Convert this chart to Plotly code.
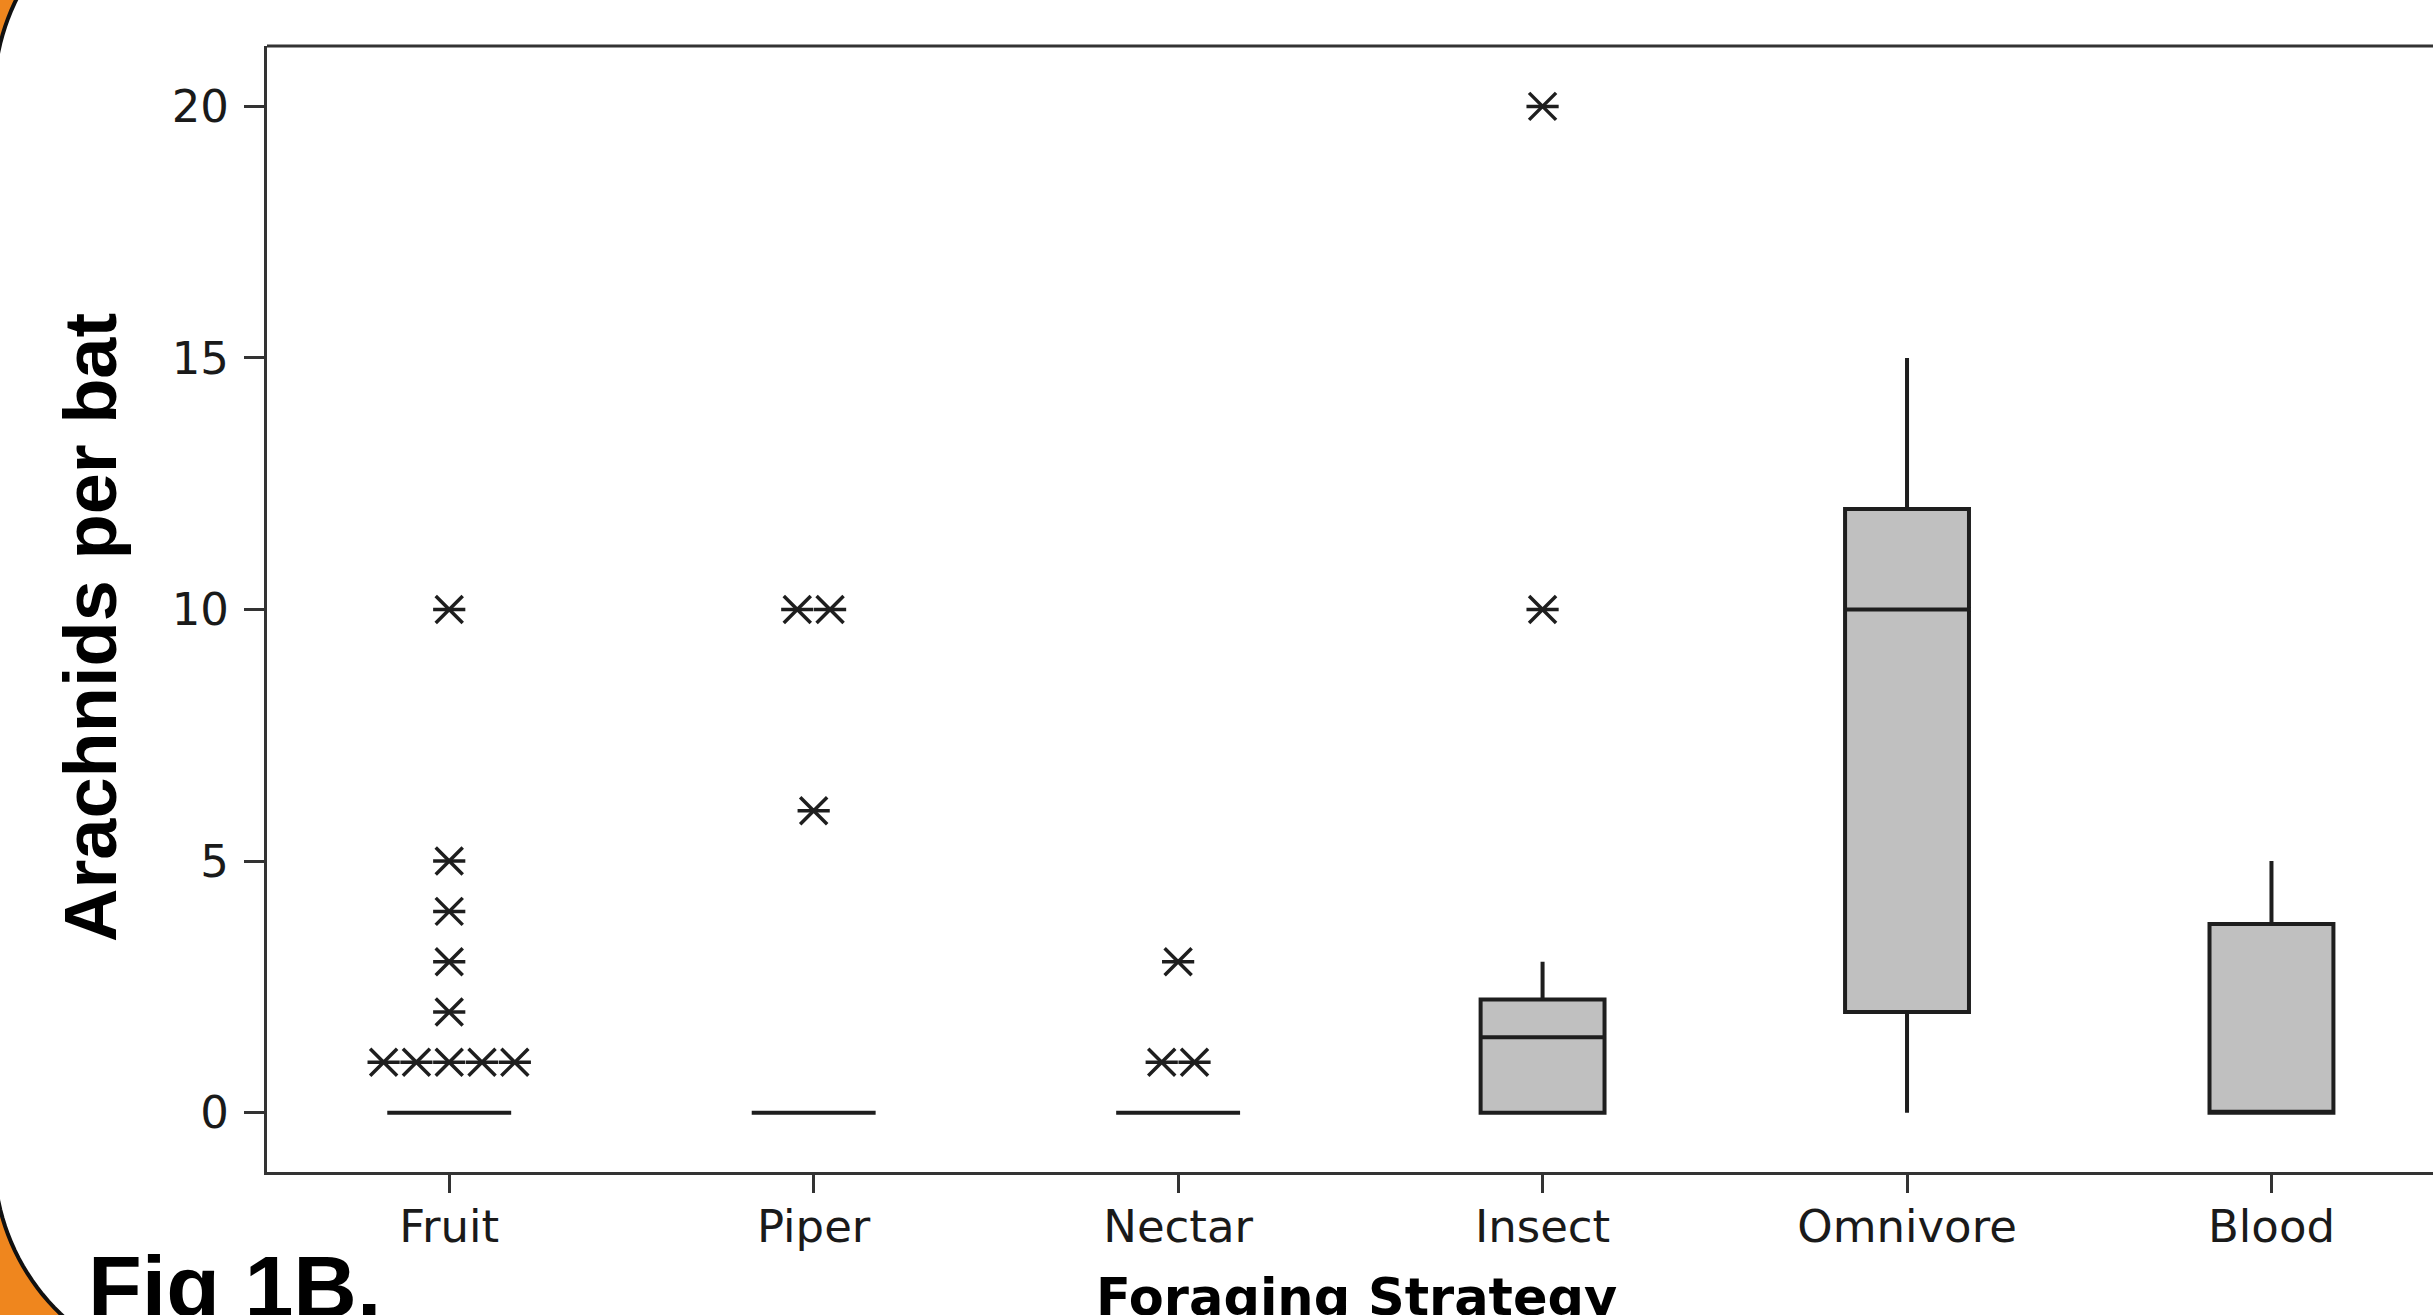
import numpy as np
import plotly.graph_objects as go

# ---------------- data ----------------
categories = ["Fruit", "Piper", "Nectar", "Insect", "Omnivore", "Blood"]
q1_vals = [0, 0, 0, 0, 2, 0]
median_vals = [0, 0, 0, 1.5, 10, 0]
q3_vals = [0, 0, 0, 2.25, 12, 3.75]
lower_whisker = [0, 0, 0, 0, 0, 0]
upper_whisker = [0, 0, 0, 3, 15, 5]

fruit_outliers = [10, 5, 4, 3, 2, 1, 1, 1, 1, 1]
piper_outliers = [10, 10, 6]
nectar_outliers = [3, 1, 1]
insect_outliers = [20, 10]
omnivore_outliers = []
blood_outliers = []
outliers = [fruit_outliers, piper_outliers, nectar_outliers,
            insect_outliers, omnivore_outliers, blood_outliers]

y_ticks = [0, 5, 10, 15, 20]

# ---------------- layout geometry ----------------
W, H = 2433, 1315
ML, MR, MT, MB = 267, 0, 46, 143
PW, PH = W - ML - MR, H - MT - MB


def pxx(px):
    return (px - ML) / PW


def pxy(py):
    return (H - MB - py) / PH


INK = "#1e1e1e"
tie_step = 0.09

fig = go.Figure()

fig.add_trace(go.Box(
    x=list(range(len(categories))),
    q1=q1_vals, median=median_vals, q3=q3_vals,
    lowerfence=lower_whisker, upperfence=upper_whisker,
    width=0.34, whiskerwidth=0, boxpoints=False,
    fillcolor="#c0c0c0", line=dict(color=INK, width=4),
    showlegend=False, hoverinfo="skip",
))

# outliers: ties placed side by side
ox, oy = [], []
for i, vals in enumerate(outliers):
    uniq = []
    for v in vals:
        if v not in uniq:
            uniq.append(v)
    for v in uniq:
        k = vals.count(v)
        for j in range(k):
            ox.append(i + (j - (k - 1) / 2) * tie_step)
            oy.append(v)

for sym, size in [("line-ew-open", 23), ("x-thin-open", 27)]:
    fig.add_trace(go.Scatter(
        x=ox, y=oy, mode="markers",
        marker=dict(symbol=sym, size=size, color=INK,
                    line=dict(color=INK, width=3.5)),
        showlegend=False, hoverinfo="skip", cliponaxis=False,
    ))

fig.update_xaxes(
    range=[-0.5, (W - 448.4) / 364.6],
    tickmode="array", tickvals=list(range(len(categories))), ticktext=categories,
    showline=True, linecolor="#333333", linewidth=3,
    ticks="outside", ticklen=18, tickwidth=3, tickcolor="#333333",
    showgrid=False, zeroline=False, ticklabelstandoff=-5,
    tickfont=dict(family="DejaVu Sans", size=45, color="#1a1a1a"),
)
fig.update_yaxes(
    range=[-1.18, 21.2],
    tickmode="array", tickvals=y_ticks, ticktext=[str(t) for t in y_ticks],
    showline=True, linecolor="#333333", linewidth=3,
    ticks="outside", ticklen=20, tickwidth=3, tickcolor="#333333",
    showgrid=False, zeroline=False, ticklabelstandoff=6,
    tickfont=dict(family="DejaVu Sans", size=45, color="#1a1a1a"),
)

shapes = []
# top frame line
shapes.append(dict(type="line", xref="paper", yref="paper", x0=0, x1=1.01, y0=1, y1=1,
                   line=dict(color="#333333", width=3)))

# orange corner decoration (rounded white panel on orange background)
R = 216
t = np.linspace(0, np.pi / 2, 40)
cx = 210
cy_bot, cy_top = 1158, 95
bot_pts = [(cx - R * np.cos(a), cy_bot + R * np.sin(a)) for a in t]
top_pts = [(cx - R * np.cos(a), cy_top - R * np.sin(a)) for a in t]


def path_from(pts, close_pts=None):
    allp = list(pts) + (close_pts or [])
    s = "M " + " L ".join(f"{pxx(x):.5f},{pxy(y):.5f}" for x, y in allp)
    if close_pts:
        s += " Z"
    return s


ORANGE = "#EF861E"
shapes.append(dict(type="path", xref="paper", yref="paper", layer="below",
                   path=path_from(bot_pts, [(cx, 1400), (-60, 1400), (-60, cy_bot)]),
                   fillcolor=ORANGE, line=dict(width=0)))
shapes.append(dict(type="path", xref="paper", yref="paper", layer="below",
                   path=path_from(top_pts, [(cx, -200), (-60, -200), (-60, cy_top)]),
                   fillcolor=ORANGE, line=dict(width=0)))
shapes.append(dict(type="path", xref="paper", yref="paper", layer="below",
                   path=path_from(bot_pts), line=dict(color="#111111", width=4)))
shapes.append(dict(type="path", xref="paper", yref="paper", layer="below",
                   path=path_from(top_pts), line=dict(color="#111111", width=4)))

annotations = [
    dict(text="<b>Arachnids per bat</b>", xref="paper", yref="paper",
         x=pxx(90), y=pxy(628), xanchor="center", yanchor="middle", textangle=-90,
         showarrow=False,
         font=dict(family="Liberation Sans", size=74, color="#000000")),
    dict(text="<b>Foraging Strategy</b>", xref="paper", yref="paper",
         x=pxx(1356), y=pxy(1266), xanchor="center", yanchor="top",
         showarrow=False,
         font=dict(family="DejaVu Sans", size=51, color="#000000")),
    dict(text="<b>Fig 1B.</b>", xref="paper", yref="paper",
         x=pxx(86), y=pxy(1235), xanchor="left", yanchor="top",
         showarrow=False,
         font=dict(family="Liberation Sans", size=88, color="#000000")),
]

fig.update_layout(
    width=W, height=H,
    margin=dict(l=ML, r=MR, t=MT, b=MB, pad=0),
    paper_bgcolor="#ffffff", plot_bgcolor="rgba(0,0,0,0)",
    shapes=shapes, annotations=annotations,
    showlegend=False,
)

fig.write_html(
    "out.html",
    config={"displayModeBar": False},
    post_script="document.body.style.margin='0px';"
                "document.documentElement.style.overflow='hidden';",
)
